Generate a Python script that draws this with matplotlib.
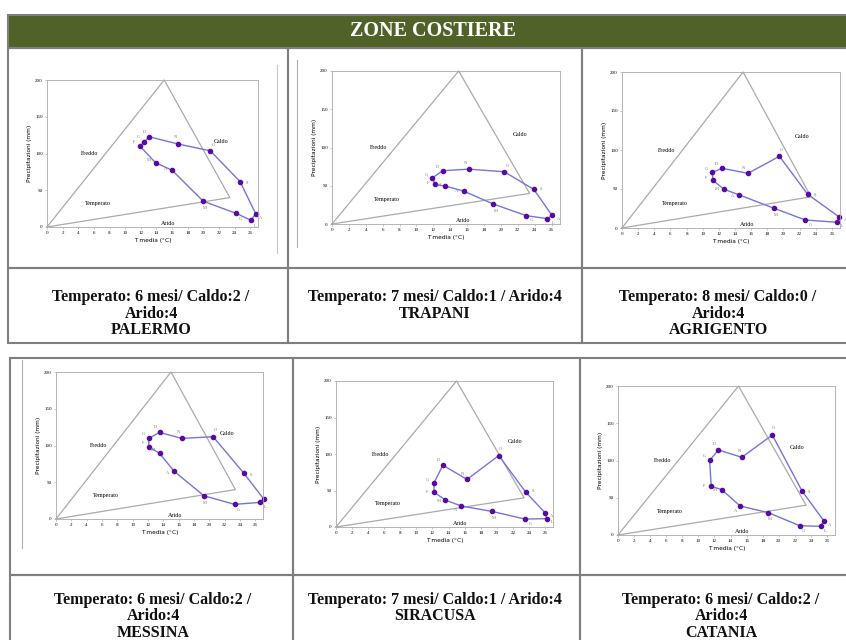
import numpy as np
import matplotlib
matplotlib.use('Agg')
import matplotlib.pyplot as plt
from matplotlib.patches import Rectangle

W, H = 846, 640

months = ['G', 'F', 'M', 'A', 'M', 'G', 'L', 'A', 'S', 'O', 'N', 'D']

# monthly mean temperature (C) and precipitation (mm), Jan..Dec
palermo_t = [12.4, 11.9, 13.9, 16.0, 20.0, 24.2, 26.1, 26.7, 24.7, 20.9, 16.75, 13.1]
palermo_p = [115.5, 110, 87.3, 77.3, 35, 18.6, 9.1, 18.2, 61.8, 103.6, 113, 122.7]
trapani_t = [11.9, 12.2, 13.4, 15.6, 19.1, 23.0, 25.5, 26.05, 23.9, 20.4, 16.2, 13.1]
trapani_p = [60.4, 51.7, 49.6, 43, 26.1, 10.9, 7, 11.3, 45.2, 68.3, 71.7, 69.6]
agrigento_t = [11.2, 11.25, 12.65, 14.55, 18.85, 22.7, 26.6, 26.9, 23.0, 19.5, 15.6, 12.4]
agrigento_p = [71.4, 61.1, 49.6, 42.3, 25.2, 10.3, 7.3, 14.1, 43.2, 91.9, 70.1, 76.5]
messina_t = [12.1, 12.1, 13.5, 15.4, 19.3, 23.3, 26.6, 27.1, 24.5, 20.5, 16.4, 13.5]
messina_p = [109.7, 98.4, 89.4, 65, 31.6, 19.9, 22.6, 27.1, 62.3, 111.9, 109.7, 117.8]
siracusa_t = [12.2, 12.2, 13.6, 15.6, 19.4, 23.5, 26.2, 26.05, 23.6, 20.25, 16.3, 13.3]
siracusa_p = [60.6, 47.8, 36.9, 28.7, 21.4, 10.9, 11.4, 19.1, 47.8, 97.9, 65.1, 84.7]
catania_t = [11.4, 11.6, 12.9, 15.2, 18.7, 22.6, 25.2, 25.6, 22.9, 19.2, 15.4, 12.5]
catania_p = [100.2, 65.3, 60.9, 38.9, 30, 12.5, 11.6, 19.2, 59.1, 134.2, 104.3, 114.1]

# Peguy triangle
tri_t = [0, 15, 23.4, 0]
tri_p = [0, 200, 40, 0]

cities = ['PALERMO', 'TRAPANI', 'AGRIGENTO', 'MESSINA', 'SIRACUSA', 'CATANIA']
captions = ['Temperato: 6 mesi/ Caldo:2 /\nArido:4',
            'Temperato: 7 mesi/ Caldo:1 / Arido:4',
            'Temperato: 8 mesi/ Caldo:0 /\nArido:4',
            'Temperato: 6 mesi/ Caldo:2 /\nArido:4',
            'Temperato: 7 mesi/ Caldo:1 / Arido:4',
            'Temperato: 6 mesi/ Caldo:2 /\nArido:4']
series = [(palermo_t, palermo_p), (trapani_t, trapani_p), (agrigento_t, agrigento_p),
          (messina_t, messina_p), (siracusa_t, siracusa_p), (catania_t, catania_p)]

# plot-area boxes in pixels: left, top, right, bottom
boxes = [(47, 80, 258, 227), (332, 71, 560, 224), (622, 72, 840, 228),
         (56, 372, 263, 519), (336, 381, 553, 527), (618, 386, 835, 535)]
caption_x = [151, 435, 718, 153, 435, 721]
caption_y = [297, 297, 297, 600, 600, 600]

fig = plt.figure(figsize=(W / 100, H / 100), dpi=100)
bg = fig.add_axes([0, 0, 1, 1])
bg.set_xlim(0, W)
bg.set_ylim(H, 0)
bg.axis('off')

edge = '#7f7f7f'
serif = 'Liberation Serif'

# table 1
bg.add_patch(Rectangle((8, 15), 850, 33, facecolor='#4f6228', edgecolor=edge, lw=1.5))
bg.text(433, 31, 'ZONE COSTIERE', color='white', fontsize=14.5, fontweight='bold',
        family=serif, ha='center', va='center')
cols1 = [8, 288, 582, 860]
cols2 = [10, 293, 580, 860]
for i in range(3):
    bg.add_patch(Rectangle((cols1[i], 48), cols1[i + 1] - cols1[i], 220, fill=False, edgecolor=edge, lw=1.5))
    bg.add_patch(Rectangle((cols1[i], 268), cols1[i + 1] - cols1[i], 75, fill=False, edgecolor=edge, lw=1.5))
    bg.add_patch(Rectangle((cols2[i], 358), cols2[i + 1] - cols2[i], 217, fill=False, edgecolor=edge, lw=1.5))
    bg.add_patch(Rectangle((cols2[i], 575), cols2[i + 1] - cols2[i], 80, fill=False, edgecolor=edge, lw=1.5))

# faint chart-object borders visible in some cells
bg.plot([277, 277], [65, 253], color='#c8c8c8', lw=0.8)
bg.plot([297, 297], [60, 247], color='#b0b0b0', lw=0.8)
bg.plot([22, 22], [360, 548], color='#b0b0b0', lw=0.8)

for k in range(6):
    lines = captions[k].split('\n')
    y = caption_y[k]
    for ln in lines:
        bg.text(caption_x[k], y, ln, fontsize=11.5, fontweight='bold', family=serif,
                ha='center', va='center', color='#111111')
        y += 16.5
    bg.text(caption_x[k], y, cities[k], fontsize=11.5, fontweight='bold', family=serif,
            ha='center', va='center', color='#111111')

    l, t, r, b = boxes[k]
    ax = fig.add_axes([l / W, 1 - b / H, (r - l) / W, (b - t) / H])
    ax.set_xlim(0, 27)
    ax.set_ylim(0, 200)
    ax.set_xticks(np.arange(0, 27, 2))
    ax.set_yticks([0, 50, 100, 150, 200])
    ax.tick_params(labelsize=3.6, length=1.5, width=0.4, color='#999999', pad=1.5)
    for lab in ax.get_xticklabels() + ax.get_yticklabels():
        lab.set_family(serif)
    for s in ax.spines.values():
        s.set_color('#aaaaaa')
        s.set_linewidth(0.6)
    ax.set_xlabel('T media (°C)', fontsize=4.2, labelpad=2)
    ax.set_ylabel('Precipitazioni (mm)', fontsize=4.2, labelpad=2)

    ax.plot(tri_t, tri_p, color='#aaaaaa', lw=0.9, clip_on=False)
    ax.text(5.5, 100, 'Freddo', fontsize=4.3, family=serif, ha='center', va='center')
    ax.text(22.3, 117, 'Caldo', fontsize=4.3, family=serif, ha='center', va='center')
    ax.text(6.5, 32, 'Temperato', fontsize=4.3, family=serif, ha='center', va='center')
    ax.text(15.5, 5, 'Arido', fontsize=4.3, family=serif, ha='center', va='center')

    tt, pp = series[k]
    ax.plot(tt + tt[:1], pp + pp[:1], color='#7474dc', lw=1.0, clip_on=False)
    ax.plot(tt, pp, 'o', color='#5a0aa0', ms=3.0, clip_on=False)
    ct, cp = np.mean(tt), np.mean(pp)
    for m, x, y in zip(months, tt, pp):
        dx, dy = (x - ct) * 8, (y - cp) * 1.1
        n = np.hypot(dx, dy) or 1
        ax.annotate(m, (x, y), xytext=(5 * dx / n, 5 * dy / n), textcoords='offset points',
                    fontsize=3.2, family=serif, color='#777777', ha='center', va='center')

fig.savefig('out.png', dpi=100)
